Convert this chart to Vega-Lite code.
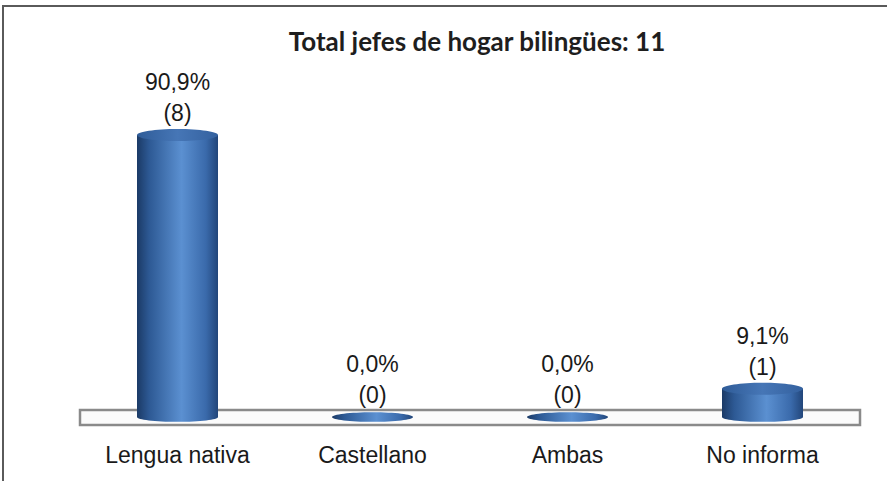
{
  "$schema": "https://vega.github.io/schema/vega-lite/v6.json",
  "width": 900,
  "height": 490,
  "autosize": {"type": "none"},
  "padding": {"left": 3, "top": 6, "right": 0, "bottom": 0},
  "background": "white",
  "config": {
    "view": {"stroke": "#5a5a5a", "strokeWidth": 2, "fill": "white"}
  },
  "title": {
    "text": "Total jefes de hogar bilingües: 11",
    "font": "Lato",
    "fontSize": 26,
    "fontWeight": "bold",
    "color": "#1e1e1e",
    "anchor": "middle",
    "frame": "group",
    "baseline": "alphabetic",
    "offset": -71,
    "dx": 24
  },
  "data": {
    "values": [
      {"cat": "Lengua nativa", "pct": 90.9, "n": 8, "pctLabel": "90,9%", "nLabel": "(8)"},
      {"cat": "Castellano", "pct": 0, "n": 0, "pctLabel": "0,0%", "nLabel": "(0)"},
      {"cat": "Ambas", "pct": 0, "n": 0, "pctLabel": "0,0%", "nLabel": "(0)"},
      {"cat": "No informa", "pct": 9.1, "n": 1, "pctLabel": "9,1%", "nLabel": "(1)"}
    ]
  },
  "resolve": {"scale": {"x": "independent"}, "axis": {"x": "independent"}},
  "layer": [
    {
      "data": {"values": [{"from": 0, "to": 1}]},
      "mark": {"type": "rect", "fill": "#fbfbfb", "stroke": "#8a8a8a", "strokeWidth": 2.5},
      "encoding": {
        "x": {"field": "from", "type": "quantitative", "scale": {"domain": [0, 1], "range": [77, 857], "nice": false, "zero": false}, "axis": null},
        "x2": {"field": "to"},
        "y": {"datum": 2.26, "type": "quantitative", "scale": {"domain": [-25.46, 132.48], "nice": false, "zero": false}, "axis": null},
        "y2": {"datum": -2.58}
      }
    },
    {
      "encoding": {
        "x": {
          "field": "cat",
          "type": "nominal",
          "scale": {"domain": ["Lengua nativa", "Castellano", "Ambas", "No informa"], "range": [77, 857], "paddingInner": 0, "paddingOuter": 0},
          "axis": {
            "title": null,
            "orient": "bottom",
            "offset": -34,
            "domain": false,
            "ticks": false,
            "tickSize": 0,
            "labelPadding": 0,
            "labelBaseline": "alphabetic",
            "labelAngle": 0,
            "labelFont": "Liberation Sans",
            "labelFontSize": 23,
            "labelColor": "#1a1a1a"
          }
        },
        "y": {
          "field": "pct",
          "type": "quantitative",
          "scale": {"domain": [-25.46, 132.48], "nice": false, "zero": false},
          "axis": null
        }
      },
      "layer": [
        {
          "transform": [{"filter": "datum.pct > 0"}],
          "mark": {
            "type": "bar",
            "width": 81,
            "fill": {
              "gradient": "linear", "x1": 0, "x2": 1, "y1": 0, "y2": 0,
              "stops": [
                {"offset": 0, "color": "#1b3a66"},
                {"offset": 0.15, "color": "#2d5994"},
                {"offset": 0.55, "color": "#5b90d1"},
                {"offset": 0.85, "color": "#3a6aab"},
                {"offset": 1, "color": "#22467a"}
              ]
            }
          }
        },
        {
          "mark": {
            "type": "point",
            "filled": true,
            "opacity": 1,
            "strokeWidth": 0,
            "size": 6561,
            "shape": "M -1 0 A 1 0.12 0 1 1 1 0 A 1 0.12 0 1 1 -1 0 Z",
            "fill": {
              "gradient": "linear", "x1": 0, "x2": 1, "y1": 0, "y2": 0,
              "stops": [
                {"offset": 0, "color": "#1b3a66"},
                {"offset": 0.15, "color": "#2d5994"},
                {"offset": 0.55, "color": "#5b90d1"},
                {"offset": 0.85, "color": "#3a6aab"},
                {"offset": 1, "color": "#22467a"}
              ]
            }
          },
          "encoding": {"y": {"datum": 0, "type": "quantitative"}}
        },
        {
          "transform": [{"filter": "datum.pct > 0"}],
          "mark": {
            "type": "point",
            "filled": true,
            "opacity": 1,
            "strokeWidth": 0,
            "size": 6561,
            "shape": "M -1 0 A 1 0.15 0 1 1 1 0 A 1 0.15 0 1 1 -1 0 Z",
            "fill": {
              "gradient": "linear", "x1": 0, "x2": 1, "y1": 0, "y2": 0,
              "stops": [
                {"offset": 0, "color": "#2f5c98"},
                {"offset": 0.5, "color": "#4676b6"},
                {"offset": 1, "color": "#34619f"}
              ]
            }
          }
        },
        {
          "mark": {"type": "text", "font": "Liberation Sans", "fontSize": 23, "color": "#1a1a1a", "baseline": "middle", "dy": -52},
          "encoding": {"text": {"field": "pctLabel"}}
        },
        {
          "mark": {"type": "text", "font": "Liberation Sans", "fontSize": 23, "color": "#1a1a1a", "baseline": "middle", "dy": -21},
          "encoding": {"text": {"field": "nLabel"}}
        }
      ]
    }
  ]
}
